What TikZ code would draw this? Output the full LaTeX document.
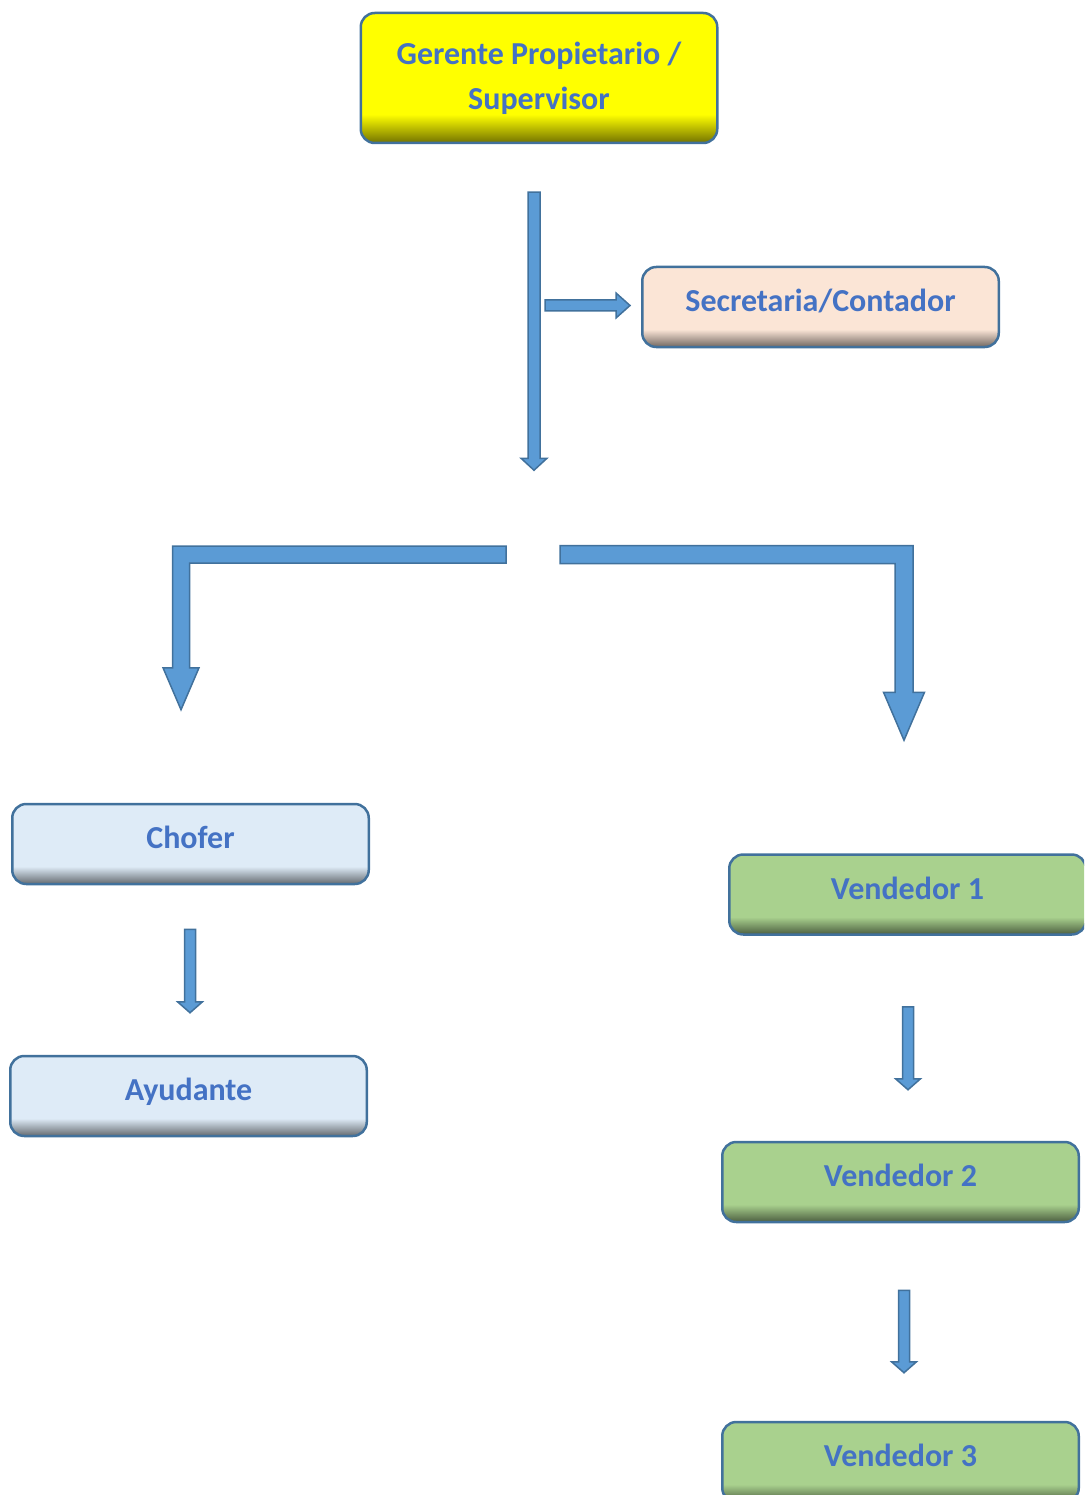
\documentclass[tikz,border=0pt]{standalone}
\usepackage{fontspec}
\setmainfont{Carlito}
\usetikzlibrary{calc}

\definecolor{boxedge}{RGB}{65,113,156}
\definecolor{arrowfill}{RGB}{91,155,213}
\definecolor{arrowedge}{RGB}{65,113,156}
\definecolor{labeltext}{RGB}{68,114,196}
\definecolor{bossfill}{RGB}{255,255,0}
\definecolor{officefill}{RGB}{251,229,214}
\definecolor{driverfill}{RGB}{222,235,247}
\definecolor{salesfill}{RGB}{169,209,142}
\colorlet{boxfill}{white}

% visible part of the shading runs from 25bp (bottom) to 75bp (top)
\pgfdeclareverticalshading[boxfill]{boxshade}{100bp}{color(0bp)=(boxfill!45!black); color(25bp)=(boxfill!45!black); color(29bp)=(boxfill!65!black); color(36bp)=(boxfill); color(100bp)=(boxfill)}

\tikzset{
  rolebox/.style={rectangle, rounded corners=14pt, draw=boxedge, line width=2.5pt, minimum width=356.5pt, minimum height=80pt, shade, shading=boxshade, text=labeltext, align=center, text height=20.6pt, text depth=11pt, font=\bfseries\fontsize{32}{45}\selectfont},
  bossbox/.style={/utils/exec={\colorlet{boxfill}{bossfill}}, text height=, text depth=},
  officebox/.style={/utils/exec={\colorlet{boxfill}{officefill}}},
  driverbox/.style={/utils/exec={\colorlet{boxfill}{driverfill}}},
  salesbox/.style={/utils/exec={\colorlet{boxfill}{salesfill}}},
  arrowshape/.style={fill=arrowfill, draw=arrowedge, line width=1.5pt, line join=miter},
  % straight block arrow: shaft half width, head half width, head length
  blockarrow/.style n args={3}{arrowshape, to path={
    ($(\tikztostart)!#1!-90:(\tikztotarget)$)
    -- ($(\tikztotarget)!#3!(\tikztostart)!#1!90:(\tikztostart)$)
    -- ($(\tikztotarget)!#3!(\tikztostart)!#2!90:(\tikztostart)$)
    -- (\tikztotarget)
    -- ($(\tikztotarget)!#3!(\tikztostart)!#2!-90:(\tikztostart)$)
    -- ($(\tikztotarget)!#3!(\tikztostart)!#1!-90:(\tikztostart)$)
    -- ($(\tikztostart)!#1!90:(\tikztotarget)$)
    -- cycle}},
  % bent block arrow: across, then down
  bentarrow/.style n args={3}{arrowshape, to path={
    let \p1=(\tikztostart), \p2=(\tikztotarget), \n1={sign(\x2-\x1)} in
    (\x1,\y1+#1) -- (\x2+\n1*#1,\y1+#1) -- (\x2+\n1*#1,\y2+#3)
    -- (\x2+\n1*#2,\y2+#3) -- (\x2,\y2) -- (\x2-\n1*#2,\y2+#3)
    -- (\x2-\n1*#1,\y2+#3) -- (\x2-\n1*#1,\y1-#1) -- (\x1,\y1-#1) -- cycle}}
}

\begin{document}
\begin{tikzpicture}[x=1pt, y=1pt]
\useasboundingbox (0,0) rectangle (1084,-1495);
\clip (0,0) rectangle (1084,-1495);

%% NODES

\node (boss) [rolebox, bossbox, minimum height=130pt] at (539,-78) {Gerente Propietario /\\Supervisor};
\node (secretary) [rolebox, officebox] at (820.5,-307) {Secretaria/Contador};
\node (driver) [rolebox, driverbox] at (190.5,-844) {Chofer};
\node (helper) [rolebox, driverbox, below of=driver, node distance=252pt, xshift=-2pt] {Ayudante};
\node (seller1) [rolebox, salesbox] at (907.5,-894.5) {Vendedor 1};
\node (seller2) [rolebox, salesbox, below of=seller1, node distance=287.5pt, xshift=-7pt] {Vendedor 2};
\node (seller3) [rolebox, salesbox, below of=seller2, node distance=280pt] {Vendedor 3};

\coordinate (trunktop) at ($(boss.south)+(-5,-48)$);
\coordinate (trunkend) at ($(boss.south)+(-5,-326)$);
\coordinate (secfrom) at ($(secretary.west)+(-96,1.5)$);
\coordinate (secto) at ($(secretary.west)+(-11,1.5)$);
\coordinate (splitL) at (506,-554.5);
\coordinate (splitR) at (560,-554.5);
\coordinate (driverto) at ($(driver.north)+(-9.5,93)$);
\coordinate (sellerto) at ($(seller1.north)+(-3.5,113)$);

%% ARROWS

\draw [blockarrow={6pt}{13pt}{12pt}] (trunktop) to (trunkend);
\draw [blockarrow={5.5pt}{12.5pt}{14pt}] (secfrom) to (secto);
\draw [bentarrow={8.5pt}{18pt}{42pt}] (splitL) to (driverto);
\draw [bentarrow={9pt}{20.5pt}{48pt}] (splitR) to (sellerto);
\draw [blockarrow={5.5pt}{12.5pt}{11pt}] ($(driver.south)+(-0.5,-44)$) to ($(helper.north)+(1.5,42)$);
\draw [blockarrow={5.5pt}{12.5pt}{11pt}] ($(seller1.south)+(0.5,-71)$) to ($(seller2.north)+(7.5,51)$);
\draw [blockarrow={5.5pt}{12.5pt}{11pt}] ($(seller2.south)+(3.5,-67)$) to ($(seller3.north)+(3.5,48)$);

\end{tikzpicture}
\end{document}
